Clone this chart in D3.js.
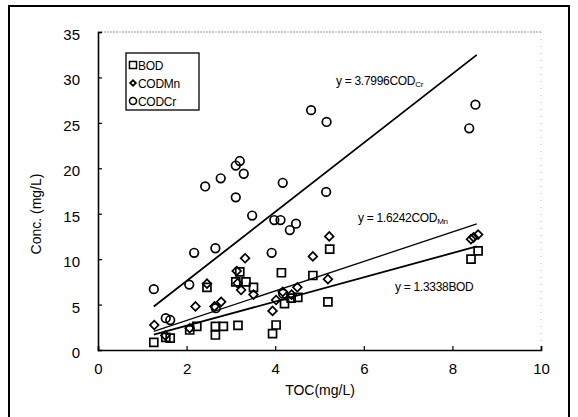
<!DOCTYPE html>
<html>
<head>
<meta charset="utf-8">
<script src="https://cdn.jsdelivr.net/npm/d3@7"></script>
<style>
  body { margin: 0; background: #fff; }
  svg { display: block; font-family: "Liberation Sans", Arial, sans-serif; }
</style>
</head>
<body>
<svg id="chart" width="578" height="417"></svg>
<script>
// TOC (mg/L) against each oxygen-demand measure
const bodToc = [1.26, 1.53, 1.63, 2.07, 2.23, 2.46, 2.65, 2.65, 2.83, 3.16, 3.20, 3.11, 3.34, 3.51, 3.94, 4.02, 4.14, 4.21, 4.36, 4.51, 4.85, 5.19, 5.23, 8.42, 8.58];
const bodVal = [0.85, 1.4, 1.3, 2.2, 2.6, 6.9, 1.65, 2.6, 2.6, 2.7, 8.6, 7.5, 7.5, 6.9, 1.8, 2.75, 8.5, 5.1, 5.7, 5.8, 8.2, 5.3, 11.1, 10.0, 10.9];

const mnToc = [1.27, 1.52, 2.07, 2.20, 2.46, 2.63, 2.78, 3.13, 3.15, 3.23, 3.32, 3.51, 3.94, 4.02, 4.17, 4.37, 4.50, 4.85, 5.19, 5.22, 8.42, 8.48, 8.58];
const mnVal = [2.75, 1.6, 2.4, 4.8, 7.3, 4.8, 5.3, 8.7, 7.35, 6.6, 10.1, 6.1, 4.3, 5.5, 6.4, 6.1, 6.9, 10.3, 7.8, 12.5, 12.2, 12.4, 12.7];

const crToc = [1.26, 1.53, 1.63, 2.06, 2.17, 2.42, 2.65, 2.66, 2.77, 3.11, 3.20, 3.11, 3.29, 3.48, 3.92, 3.98, 4.12, 4.17, 4.18, 4.33, 4.47, 4.81, 5.16, 5.15, 8.38, 8.52];
const crVal = [6.7, 3.5, 3.3, 7.2, 10.7, 18.0, 11.2, 4.6, 18.9, 20.3, 20.8, 16.8, 19.4, 14.8, 10.7, 14.3, 14.3, 18.4, 6.2, 13.2, 13.9, 26.4, 25.1, 17.4, 24.4, 27.0];

// Slopes of the fitted lines (y = k * TOC)
const slopes = { bod: 1.3338, mn: 1.6242, cr: 3.7996 };
const fitRange = [1.26, 8.55];

const xTicks = [0, 2, 4, 6, 8, 10];
const yTicks = [0, 5, 10, 15, 20, 25, 30, 35];

const svg = d3.select("#chart");

// outer figure frame
svg.append("rect")
  .attr("x", 9).attr("y", 6).attr("width", 560).attr("height", 420)
  .attr("fill", "none").attr("stroke", "#000").attr("stroke-width", 2);

const x = d3.scaleLinear().domain([0, 10]).range([98, 541]);
const y = d3.scaleLinear().domain([0, 35]).range([350, 32]);

// faint top/right plot borders
svg.append("line").attr("x1", x(0)).attr("x2", x(10)).attr("y1", y(35)).attr("y2", y(35))
  .attr("stroke", "#999").attr("stroke-width", 1).attr("stroke-dasharray", "2,1");
svg.append("line").attr("x1", x(10)).attr("x2", x(10)).attr("y1", y(35)).attr("y2", y(0))
  .attr("stroke", "#bbb").attr("stroke-width", 1).attr("stroke-dasharray", "1,6");

// axes with inward ticks
const xAxis = svg.append("g").attr("transform", `translate(0,${y(0)})`)
  .call(d3.axisBottom(x).tickValues(xTicks).tickSize(-4).tickPadding(13).tickFormat(d3.format("d")));
const yAxis = svg.append("g").attr("transform", `translate(${x(0)},0)`)
  .call(d3.axisLeft(y).tickValues(yTicks).tickSize(-4).tickPadding(18).tickFormat(d3.format("d")));

[xAxis, yAxis].forEach(g => {
  g.select(".domain").attr("stroke", "#000").attr("stroke-width", 1.6);
  g.selectAll(".tick line").attr("stroke", "#000").attr("stroke-width", 1.2);
  g.selectAll("text").attr("fill", "#000").attr("font-size", 15)
    .attr("font-family", "'Liberation Sans', Arial, sans-serif");
});
yAxis.selectAll("text").attr("dy", "0.5em");

// axis titles
svg.append("text").attr("x", 320).attr("y", 395).attr("text-anchor", "middle")
  .attr("fill", "#000").attr("font-size", 14).text("TOC(mg/L)");
svg.append("text").attr("transform", "translate(41,214) rotate(-90)")
  .attr("text-anchor", "middle").attr("fill", "#000").attr("font-size", 14).text("Conc. (mg/L)");

// fitted lines
const fits = [
  { k: slopes.cr, w: 1.8 },
  { k: slopes.mn, w: 1.3 },
  { k: slopes.bod, w: 1.8 }
];
fits.forEach(f => {
  svg.append("line")
    .attr("x1", x(fitRange[0])).attr("y1", y(f.k * fitRange[0]))
    .attr("x2", x(fitRange[1])).attr("y2", y(f.k * fitRange[1]))
    .attr("stroke", "#000").attr("stroke-width", f.w);
});

// markers
const mk = { fill: "none", stroke: "#000", sw: 1.7 };
const sq = d3.symbol().type(d3.symbolSquare).size(64);
const dm = d3.symbol().type(d3.symbolSquare).size(38); // rotated 45deg -> diamond

svg.append("g").selectAll("circle").data(crToc).join("circle")
  .attr("cx", d => x(d)).attr("cy", (d, i) => y(crVal[i])).attr("r", 4.3)
  .attr("fill", mk.fill).attr("stroke", mk.stroke).attr("stroke-width", mk.sw);

svg.append("g").selectAll("path").data(mnToc).join("path")
  .attr("d", dm).attr("transform", (d, i) => `translate(${x(d)},${y(mnVal[i])}) rotate(45)`)
  .attr("fill", mk.fill).attr("stroke", mk.stroke).attr("stroke-width", mk.sw);

svg.append("g").selectAll("path").data(bodToc).join("path")
  .attr("d", sq).attr("transform", (d, i) => `translate(${x(d)},${y(bodVal[i])})`)
  .attr("fill", mk.fill).attr("stroke", mk.stroke).attr("stroke-width", mk.sw);

// equation labels
function eq(xp, yp, main, sub) {
  const t = svg.append("text").attr("x", xp).attr("y", yp).attr("font-size", 12)
    .attr("fill", "#000").attr("letter-spacing", -0.3);
  t.append("tspan").text(main);
  if (sub) t.append("tspan").attr("font-size", 8).attr("dy", 2).text(sub);
}
eq(336, 85, "y = 3.7996COD", "Cr");
eq(358, 222, "y = 1.6242COD", "Mn");
eq(395, 291, "y = 1.3338BOD", null);

// legend
const lg = svg.append("g");
lg.append("rect").attr("x", 126).attr("y", 53).attr("width", 73).attr("height", 57)
  .attr("fill", "#fff").attr("stroke", "#000").attr("stroke-width", 1.3);
const items = [
  { name: "BOD", sym: "sq" },
  { name: "CODMn", sym: "dm" },
  { name: "CODCr", sym: "ci" }
];
items.forEach((it, i) => {
  const cy = 65 + i * 18;
  if (it.sym === "sq") {
    lg.append("path").attr("d", d3.symbol().type(d3.symbolSquare).size(50))
      .attr("transform", `translate(133,${cy})`).attr("fill", "none").attr("stroke", "#000").attr("stroke-width", 1.5);
  } else if (it.sym === "dm") {
    lg.append("path").attr("d", d3.symbol().type(d3.symbolSquare).size(16))
      .attr("transform", `translate(133,${cy}) rotate(45)`).attr("fill", "none").attr("stroke", "#000").attr("stroke-width", 1.8);
  } else {
    lg.append("circle").attr("cx", 133).attr("cy", cy).attr("r", 3.5)
      .attr("fill", "none").attr("stroke", "#000").attr("stroke-width", 1.6);
  }
  lg.append("text").attr("x", 138).attr("y", cy + 4.5).attr("font-size", 12)
    .attr("fill", "#000").attr("letter-spacing", -0.3).text(it.name);
});
</script>
</body>
</html>
